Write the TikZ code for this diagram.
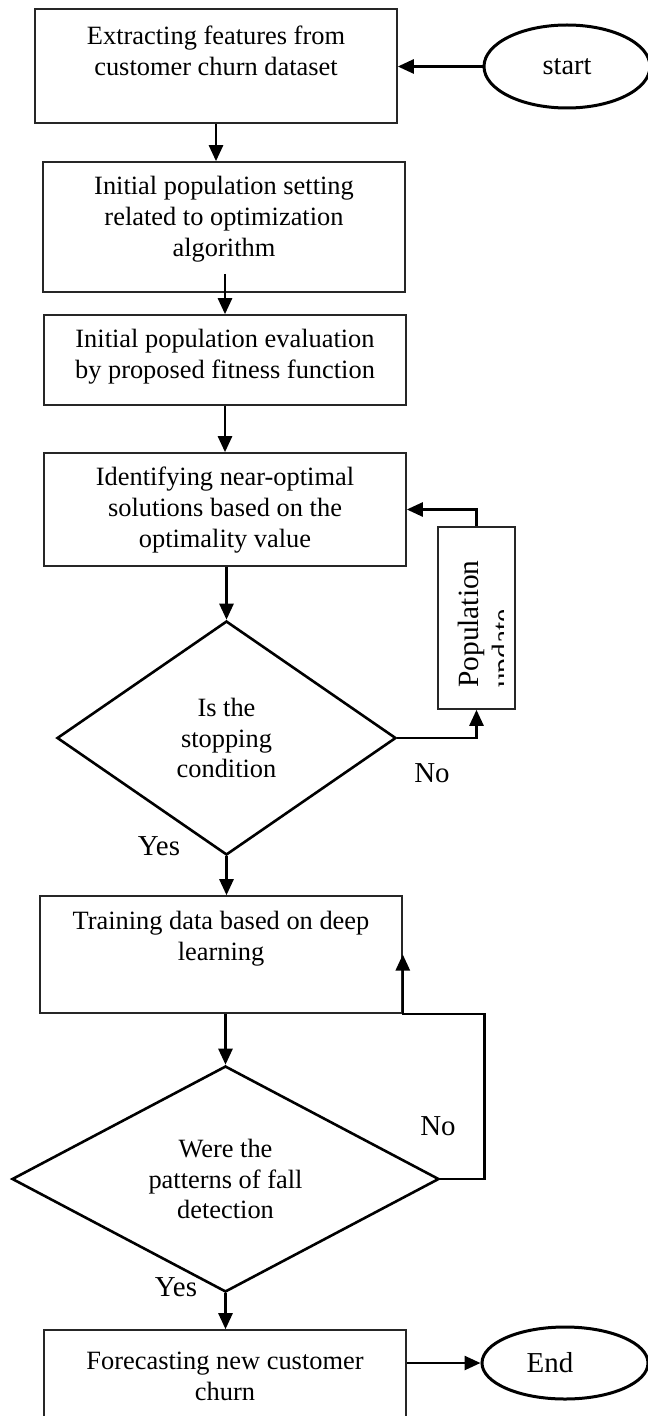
\documentclass[tikz,border=0pt]{standalone}
\usepackage{fontspec}
\setmainfont{Liberation Serif}
\usetikzlibrary{arrows.meta,shapes.geometric,calc}

\begin{document}
\begin{tikzpicture}[x=1bp, y=-1bp, >={Triangle[length=16bp, width=14bp]}, line width=2.6bp]

\tikzstyle{box}=[rectangle, draw=black!85, line width=1.6bp, minimum width=362bp, inner sep=0pt]
\tikzstyle{txt}=[align=center, inner sep=0pt, font=\fontsize{26.5}{31}\selectfont]
\tikzstyle{lbl}=[inner sep=0pt, font=\fontsize{29}{34}\selectfont]
\tikzstyle{decision}=[diamond, draw, line width=2.6bp, inner sep=0pt, align=center, font=\fontsize{26.5}{31}\selectfont]
\tikzstyle{term}=[ellipse, draw, line width=3bp, inner sep=0pt, minimum width=166bp, font=\fontsize{28.5}{31}\selectfont]

\useasboundingbox (0,0) rectangle (648,1416);

% process boxes
\draw (216,66) node[box, minimum height=114bp] (extract) {}
      (216,51) node[txt] (extracttxt) {Extracting features from\\customer churn dataset};
\draw (224,227) node[box, minimum height=130bp] (init) {}
      (224,219) node[txt] (inittxt) {Initial population setting\\related to optimization\\algorithm};
\draw (225,360) node[box, minimum height=90bp] (evalbox) {}
      (225,357) node[txt] (evaltxt) {Initial population evaluation\\by proposed fitness function};
\draw (225,509.5) node[box, minimum height=113bp] (ident) {}
      (225,510) node[txt] (identtxt) {Identifying near-optimal\\solutions based on the\\optimality value};
\draw (221,954.5) node[box, minimum height=117bp] (train) {}
      (221,939) node[txt] (traintxt) {Training data based on deep\\learning};
\draw (225,1375) node[box, minimum height=90bp] (forecast) {}
      (225,1376) node[txt] (forecasttxt) {Forecasting new customer\\churn};

% decisions
\draw (226.5,738) node[decision, minimum width=339bp, minimum height=234bp, aspect=1.45] (stop) {Is the\\stopping\\condition};
\draw (225.5,1179) node[decision, minimum width=427bp, minimum height=226bp, aspect=1.9] (detect) {Were the\\patterns of fall\\detection};

% start / end
\draw (567,66.5) node[term, minimum height=83bp] (start) {start};
\draw (565,1363) node[term, minimum height=72bp] (endnode) {}
      (550,1363) node[lbl] (endtxt) {End};

% population update (text cut by its box)
\draw (476.5,618) node[box, minimum width=77bp, minimum height=182bp] (pop) {};
\begin{scope}
\clip (438,527) rectangle (503,709);
\draw (457,689) node[lbl, rotate=90, anchor=north west, align=left, font=\fontsize{29.5}{34}\selectfont] (poptxt) {Population\\update};
\end{scope}

% labels
\draw (159,846) node[lbl] (yes1) {Yes}
      (432,773) node[lbl] (no1) {No}
      (176,1287) node[lbl] (yes2) {Yes}
      (438,1126) node[lbl] (no2) {No};

% connectors
\draw[->] (start.west) -- (start.west -| extract.east);
\draw[->] (extract.south) -- (extract.south |- init.north);
\draw[->] ($(init.south -| evalbox.north)+(0,-19)$) -- (evalbox.north);
\draw[->] (evalbox.south) -- (ident.north);
\draw[->] (stop.north |- ident.south) -- (stop.north);
\draw[->] (stop.east) -| (pop.south);
\draw[->] (pop.north) |- (ident.east);
\draw[->] (stop.south) -- (stop.south |- train.north);
\draw[->] (detect.north |- train.south) -- (detect.north);
\draw[->] (detect.east) -- ++(44,0) |- (train.south east) -- (train.east);
\draw[->] (detect.south) -- (detect.south |- forecast.north);
\draw[->] (forecast.east |- endnode.west) -- (endnode.west);

\end{tikzpicture}
\end{document}
